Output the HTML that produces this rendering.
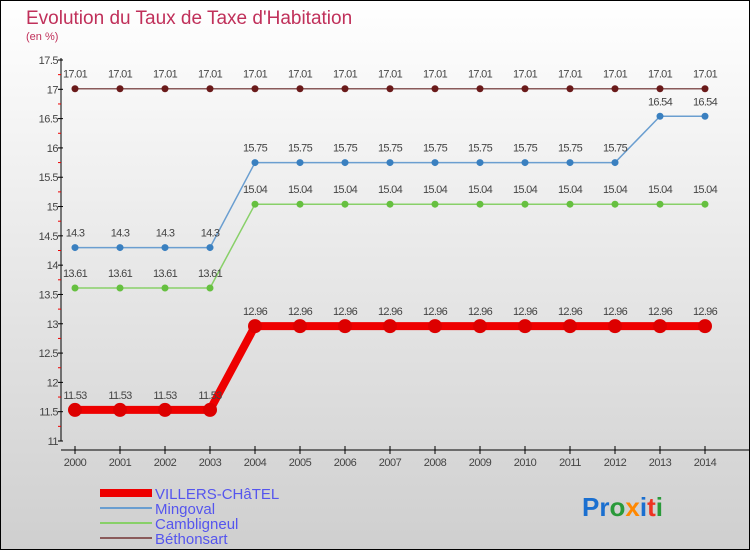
<!DOCTYPE html>
<html><head><meta charset="utf-8"><style>
body{margin:0}
svg{display:block;font-family:"Liberation Sans",sans-serif}
</style></head><body>
<svg width="750" height="550">
<defs><linearGradient id="bg" x1="0" y1="0" x2="0" y2="1"><stop offset="0" stop-color="#ffffff"/><stop offset="1" stop-color="#cfcfcf"/></linearGradient></defs>
<rect x="0.5" y="0.5" width="749" height="549" fill="url(#bg)" stroke="#000"/>
<text x="26" y="24" font-size="19" fill="#c0305a">Evolution du Taux de Taxe d'Habitation</text>
<text x="26" y="40" font-size="11" fill="#c0305a">(en %)</text>
<g id="axes"></g>
<g id="series"></g>
<g id="legend" font-size="15" fill="#5555ee">
<rect x="100" y="489" width="52" height="8" fill="#ee0000"/>
<text x="155" y="499">VILLERS-CHâTEL</text>
<rect x="100" y="507" width="52" height="2" fill="#6a9ed0"/>
<text x="155" y="514">Mingoval</text>
<rect x="100" y="522" width="52" height="2" fill="#88d068"/>
<text x="155" y="529">Cambligneul</text>
<rect x="100" y="537" width="52" height="2" fill="#8a5a5a"/>
<text x="155" y="544">Béthonsart</text>
</g>
<text x="582" y="516" font-size="26" font-weight="bold"><tspan fill="#1a6fd0">Pr</tspan><tspan fill="#2a9a3a">o</tspan><tspan fill="#ff8800">x</tspan><tspan fill="#1a6fd0">i</tspan><tspan fill="#ee3322">t</tspan><tspan fill="#2a9a3a">i</tspan></text>
</svg>
<script>
const years=[2000,2001,2002,2003,2004,2005,2006,2007,2008,2009,2010,2011,2012,2013,2014];
const villers=[11.53,11.53,11.53,11.53,12.96,12.96,12.96,12.96,12.96,12.96,12.96,12.96,12.96,12.96,12.96];
const mingoval=[14.3,14.3,14.3,14.3,15.75,15.75,15.75,15.75,15.75,15.75,15.75,15.75,15.75,16.54,16.54];
const cambligneul=[13.61,13.61,13.61,13.61,15.04,15.04,15.04,15.04,15.04,15.04,15.04,15.04,15.04,15.04,15.04];
const bethonsart=[17.01,17.01,17.01,17.01,17.01,17.01,17.01,17.01,17.01,17.01,17.01,17.01,17.01,17.01,17.01];
const yTicks=[11,11.5,12,12.5,13,13.5,14,14.5,15,15.5,16,16.5,17,17.5];
const NS="http://www.w3.org/2000/svg";
function X(i){return 75+(705-75)*i/(years.length-1);}
function Y(v){return 441-(v-11)*(441-60)/6.5;}
function mk(p,t,a){const e=document.createElementNS(NS,t);for(const k in a)e.setAttribute(k,a[k]);p.appendChild(e);return e;}
const ax=document.getElementById('axes');
const yl=mk(ax,'line',{x1:61,y1:58,x2:61,y2:441,stroke:'#000'});


const xl=mk(ax,'line',{x1:61,y1:450,x2:750,y2:450,stroke:'#000'});


yTicks.forEach((v,i)=>{
 mk(ax,'line',{x1:58,y1:Y(v),x2:63,y2:Y(v),stroke:'#000'});
 if(i<yTicks.length-1) mk(ax,'line',{x1:58,y1:Y(v+0.25),x2:61,y2:Y(v+0.25),stroke:'#e00'});
 const t=mk(ax,'text',{x:58,y:Y(v)+4,'font-size':11,fill:'#444','text-anchor':'end','letter-spacing':'-0.5'});
 t.textContent=String(v);
 
 
});
years.forEach((yr,i)=>{
 mk(ax,'line',{x1:X(i),y1:446,x2:X(i),y2:454,stroke:'#000'});
 const t=mk(ax,'text',{x:X(i),y:466,'font-size':11,fill:'#444','text-anchor':'middle','letter-spacing':'-0.5'});
 t.textContent=yr;
 
 
});
const sg=document.getElementById('series');
function draw(vals,line,dot,w,r,name,fmt){
 const g=mk(sg,'g',{});
 
 
 mk(g,'polyline',{points:vals.map((v,i)=>X(i)+','+Y(v)).join(' '),fill:'none',stroke:line,'stroke-width':w});
 vals.forEach((v,i)=>{
  const c=mk(g,'circle',{cx:X(i),cy:Y(v),r:r,fill:dot});
  
  
  const t=mk(g,'text',{x:X(i),y:Y(v)-11,'font-size':11,fill:'#444','text-anchor':'middle','letter-spacing':'-0.7'});
  t.textContent=fmt(v);
  
  
 });
}
const f2=v=>{let s=v.toFixed(2);return s.replace(/0$/,'').replace(/\.$/,'');};
draw(bethonsart,'#8a5a5a','#6a1a1a',1.5,3.5,'bethonsart',f2);
draw(mingoval,'#6a9ed0','#3a80c0',1.5,3.5,'mingoval',f2);
draw(cambligneul,'#88d068','#66c040',1.5,3.5,'cambligneul',f2);
draw(villers,'#ee0000','#dd0000',8,7,'villers',f2);
</script>
</body></html>
